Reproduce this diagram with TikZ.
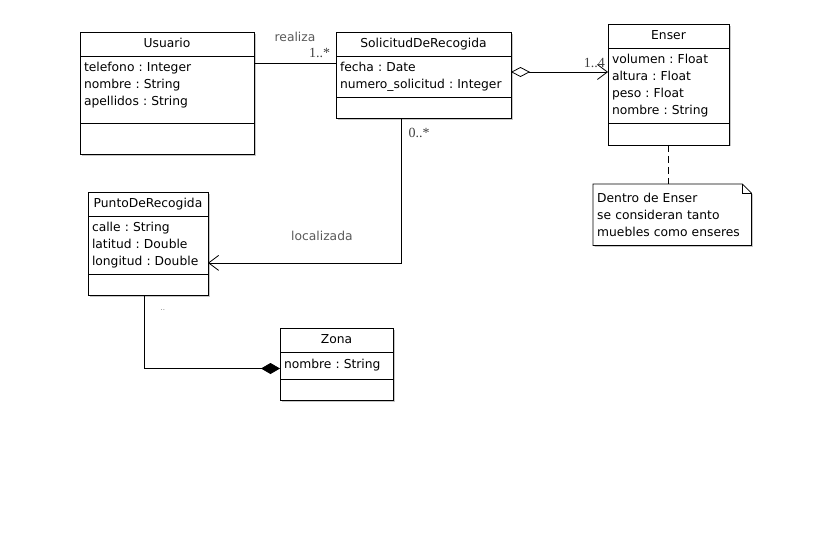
\documentclass[tikz,border=0pt]{standalone}
\usepackage{fontspec}
\setmainfont{DejaVu Sans}
\newfontfamily\multfont{Liberation Serif}
\usepackage{tikz}
\usetikzlibrary{positioning,arrows.meta,shadows,backgrounds}
\frenchspacing

\begin{document}
\begin{tikzpicture}[
  x=1pt,
  y=-1pt,
  font=\fontsize{12.3}{17}\selectfont,
  node distance=0pt
]

  \path[use as bounding box] (0,0) rectangle (832,541);

  \tikzstyle{umlbox}=[draw,line width=0.8pt,fill=white,outer sep=0pt,inner sep=0pt,drop shadow={fill=black!22,opacity=1,shadow xshift=1.5pt,shadow yshift=-1.5pt}]
  \tikzstyle{classname}=[umlbox,anchor=north west,minimum height=24pt,text height=9pt,text depth=3pt]
  \tikzstyle{classattr}=[umlbox,align=left,inner xsep=4pt,inner ysep=6pt]
  \tikzstyle{classops}=[umlbox,minimum height=21.5pt]
  \tikzstyle{notebox}=[anchor=north west,align=left,inner xsep=4pt,inner ysep=0pt]

  \tikzstyle{assoc}=[draw,line width=0.8pt]
  \tikzstyle{navassoc}=[assoc,-{Straight Barb[length=10pt,width=15pt]}]
  \tikzstyle{aggr}=[assoc,{Diamond[open,length=19pt,width=10pt]}-{Straight Barb[length=10pt,width=15pt]}]
  \tikzstyle{compos}=[assoc,-{Diamond[length=19pt,width=11pt]}]
  \tikzstyle{notelink}=[draw,line width=0.8pt,dash pattern=on 7pt off 4pt]
  \tikzstyle{rolelab}=[text=black!65]
  \tikzstyle{multlab}=[font=\multfont\fontsize{14}{14}\selectfont,text=black!75]

  % classes
  \node[classname,minimum width=174pt] (usuario) at (80,32) {Usuario};
  \node[classattr,text width=166pt,below=of usuario] (usuarioattr) {telefono : Integer\\nombre : String\\apellidos : String\rule[-12pt]{0pt}{12pt}};
  \node[classops,minimum width=174pt,minimum height=31pt,below=of usuarioattr] (usuarioops) {};

  \node[classname,minimum width=175pt] (sol) at (336,32) {SolicitudDeRecogida};
  \node[classattr,text width=167pt,below=of sol] (solattr) {fecha : Date\\numero\_solicitud : Integer};
  \node[classops,minimum width=175pt,below=of solattr] (solops) {};

  \node[classname,minimum width=121pt] (enser) at (608,24) {Enser};
  \node[classattr,text width=113pt,below=of enser] (enserattr) {volumen : Float\\altura : Float\\peso : Float\\nombre : String};
  \node[classops,minimum width=121pt,minimum height=22pt,below=of enserattr] (enserops) {};

  \node[classname,minimum width=120pt] (punto) at (88,192) {PuntoDeRecogida};
  \node[classattr,text width=112pt,below=of punto] (puntoattr) {calle : String\\latitud : Double\\longitud : Double};
  \node[classops,minimum width=120pt,below=of puntoattr] (puntoops) {};

  \node[classname,minimum width=113pt] (zona) at (280,328) {Zona};
  \node[classattr,text width=105pt,minimum height=27pt,below=of zona] (zonaattr) {nombre : String};
  \node[classops,minimum width=113pt,below=of zonaattr] (zonaops) {};

  % note
  \node[notebox,text width=150pt,minimum height=61pt] (nota) at (593,184) {Dentro de Enser\\se consideran tanto\\muebles como enseres};
  \begin{scope}[on background layer]
    \draw[umlbox] (nota.north west) -- ([xshift=-9pt]nota.north east) -- ([yshift=-9pt]nota.north east) -- (nota.south east) -- (nota.south west) -- cycle;
    \draw[line width=0.8pt] ([xshift=-9pt]nota.north east) |- ([yshift=-9pt]nota.north east);
  \end{scope}

  % relations
  \draw[assoc] ([yshift=-7pt]usuarioattr.north east) -- ([yshift=-7pt]solattr.north west)
    node[rolelab,midway,yshift=26pt] {realiza}
    node[multlab,pos=0.8,yshift=10pt] {1..*};
  \draw[aggr] ([yshift=-16pt]solattr.north east) -- ([yshift=-16pt]solattr.north east -| enserattr.west)
    node[multlab,pos=0.86,yshift=9pt] {1..4};
  \draw[navassoc] ([xshift=65pt]solops.south west) |- ([yshift=11pt]puntoattr.south east)
    node[rolelab,pos=0.705,yshift=27pt] {localizada}
    node[multlab,pos=0.05,right=4pt] {0..*};
  \draw[compos] ([xshift=56pt]puntoops.south west) |- ([yshift=-3pt]zonaattr.west)
    node[multlab,font=\fontsize{7}{7}\selectfont,text=black!55,pos=0.1,right=13pt] {..};
  \draw[notelink] (enserops.south) -- (enserops.south |- nota.north);

\end{tikzpicture}
\end{document}
